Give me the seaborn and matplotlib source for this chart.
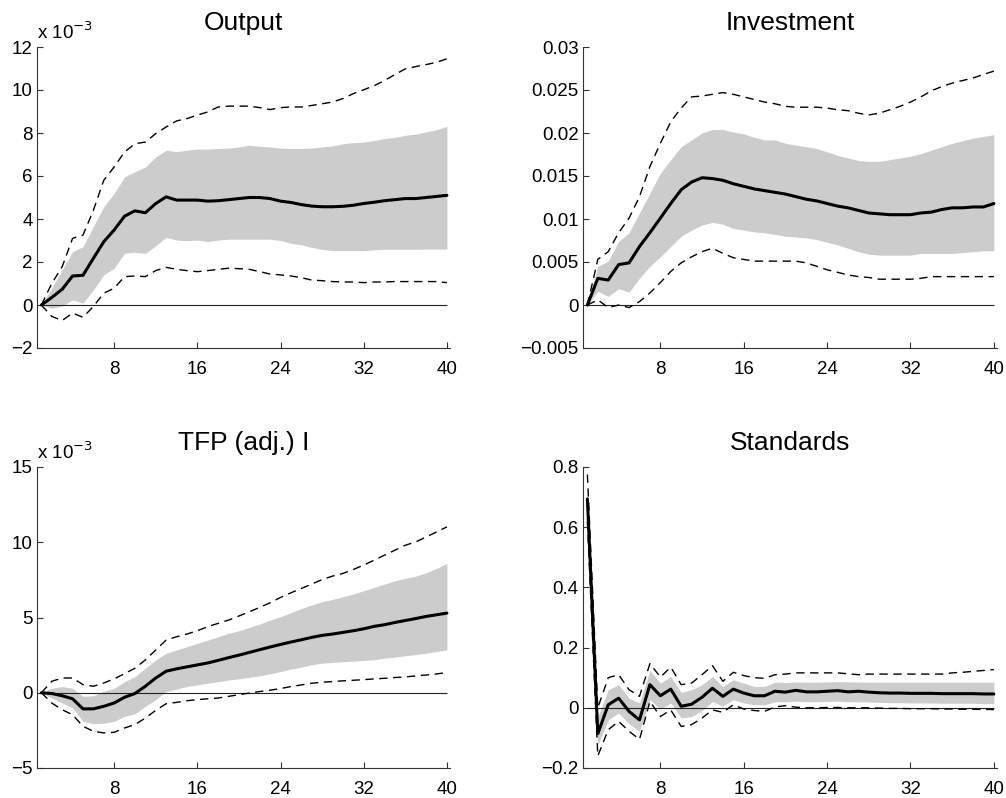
import numpy as np
import pandas as pd
import matplotlib
matplotlib.use("Agg")
import matplotlib.pyplot as plt
import seaborn as sns
from matplotlib.ticker import FuncFormatter

sns.set_style("ticks")
plt.rcParams['font.family'] = ['Liberation Sans', 'DejaVu Sans']
plt.rcParams['axes.unicode_minus'] = True
plt.rcParams['text.color'] = 'black'
plt.rcParams['axes.labelcolor'] = 'black'
plt.rcParams['xtick.labelcolor'] = 'black'
plt.rcParams['ytick.labelcolor'] = 'black'

horizon = list(range(1, 41))

# ---------------- Output (x 10^-3) ----------------
output_mean = [0, 0.35, 0.73, 1.35, 1.38, 2.17, 2.94, 3.49, 4.13, 4.38,
               4.29, 4.72, 5.03, 4.88, 4.88, 4.88, 4.83, 4.85, 4.90, 4.95,
               5.00, 5.00, 4.95, 4.83, 4.77, 4.67, 4.60, 4.57, 4.57, 4.59,
               4.64, 4.72, 4.78, 4.85, 4.90, 4.95, 4.95, 5.00, 5.05, 5.10]
output_band_hi = [0, 0.80, 1.63, 2.48, 2.71, 3.64, 4.57, 5.19, 5.96, 6.20,
                  6.42, 6.89, 7.20, 7.13, 7.20, 7.25, 7.25, 7.28, 7.30, 7.35,
                  7.43, 7.38, 7.35, 7.30, 7.28, 7.28, 7.30, 7.35, 7.40, 7.50,
                  7.55, 7.58, 7.65, 7.74, 7.80, 7.89, 7.95, 8.05, 8.15, 8.31]
output_band_lo = [0, -0.15, -0.05, 0.24, 0.09, 0.70, 1.40, 1.71, 2.41, 2.45,
                  2.40, 2.76, 3.15, 3.02, 2.99, 3.02, 2.95, 3.02, 3.06, 3.06,
                  3.06, 3.06, 3.06, 3.00, 2.87, 2.80, 2.68, 2.59, 2.53, 2.53,
                  2.53, 2.53, 2.57, 2.59, 2.59, 2.59, 2.59, 2.60, 2.60, 2.60]
output_ci_hi = [0, 1.00, 1.78, 3.10, 3.25, 4.40, 5.80, 6.42, 7.12, 7.50,
                7.58, 7.97, 8.28, 8.56, 8.67, 8.83, 8.98, 9.21, 9.25, 9.25,
                9.25, 9.18, 9.09, 9.18, 9.21, 9.21, 9.28, 9.36, 9.44, 9.60,
                9.83, 10.01, 10.20, 10.44, 10.72, 10.98, 11.09, 11.18, 11.29, 11.45]
output_ci_lo = [0, -0.53, -0.72, -0.38, -0.57, -0.07, 0.55, 0.78, 1.32, 1.35,
                1.32, 1.60, 1.75, 1.66, 1.60, 1.55, 1.60, 1.66, 1.71, 1.69,
                1.66, 1.55, 1.44, 1.40, 1.35, 1.27, 1.16, 1.13, 1.09, 1.07,
                1.07, 1.04, 1.07, 1.07, 1.09, 1.09, 1.09, 1.09, 1.09, 1.04]

# ---------------- Investment ----------------
inv_mean = [0, 0.0031, 0.0029, 0.0047, 0.0049, 0.0068, 0.0084, 0.0101, 0.0118, 0.0134,
            0.0143, 0.0148, 0.0147, 0.0145, 0.0141, 0.0138, 0.0135, 0.0133, 0.0131, 0.0129,
            0.0126, 0.0123, 0.0121, 0.0118, 0.0115, 0.0113, 0.0110, 0.0107, 0.0106, 0.0105,
            0.0105, 0.0105, 0.0107, 0.0108, 0.0111, 0.0113, 0.0113, 0.0114, 0.0114, 0.0118]
inv_band_hi = [0, 0.0045, 0.0051, 0.0074, 0.0084, 0.0107, 0.0130, 0.0153, 0.0169, 0.0184,
               0.0192, 0.0200, 0.0204, 0.0204, 0.0201, 0.0199, 0.0195, 0.0192, 0.0192, 0.0188,
               0.0186, 0.0184, 0.0182, 0.0178, 0.0174, 0.0171, 0.0168, 0.0167, 0.0167, 0.0169,
               0.0171, 0.0173, 0.0176, 0.0180, 0.0184, 0.0188, 0.0191, 0.0194, 0.0196, 0.0198]
inv_band_lo = [0, 0.0016, 0.0010, 0.0019, 0.0015, 0.0031, 0.0045, 0.0056, 0.0068, 0.0080,
               0.0087, 0.0093, 0.0096, 0.0094, 0.0089, 0.0087, 0.0085, 0.0084, 0.0082, 0.0080,
               0.0079, 0.0078, 0.0076, 0.0073, 0.0070, 0.0066, 0.0062, 0.0059, 0.0058, 0.0058,
               0.0058, 0.0058, 0.0060, 0.0060, 0.0060, 0.0060, 0.0061, 0.0062, 0.0063, 0.0063]
inv_ci_hi = [0, 0.0053, 0.0062, 0.0084, 0.0101, 0.0126, 0.0161, 0.0188, 0.0213, 0.0229,
             0.0242, 0.0243, 0.0245, 0.0247, 0.0245, 0.0242, 0.0239, 0.0236, 0.0234, 0.0231,
             0.0230, 0.0230, 0.0230, 0.0229, 0.0227, 0.0226, 0.0223, 0.0221, 0.0223, 0.0227,
             0.0231, 0.0236, 0.0242, 0.0249, 0.0254, 0.0258, 0.0261, 0.0264, 0.0268, 0.0272]
inv_ci_lo = [0, 0.0006, -0.0003, 0.0000, -0.0003, 0.0004, 0.0014, 0.0026, 0.0039, 0.0049,
             0.0056, 0.0062, 0.0066, 0.0060, 0.0055, 0.0053, 0.0051, 0.0051, 0.0051, 0.0051,
             0.0051, 0.0049, 0.0045, 0.0041, 0.0038, 0.0035, 0.0033, 0.0032, 0.0030, 0.0030,
             0.0030, 0.0030, 0.0031, 0.0033, 0.0033, 0.0033, 0.0033, 0.0033, 0.0033, 0.0033]

# ---------------- TFP (adj.) I (x 10^-3) ----------------
tfp_mean = [0, -0.05, -0.20, -0.40, -1.07, -1.07, -0.90, -0.68, -0.30, -0.05,
            0.43, 0.98, 1.43, 1.59, 1.72, 1.85, 1.98, 2.15, 2.33, 2.50,
            2.68, 2.86, 3.04, 3.21, 3.37, 3.52, 3.68, 3.81, 3.90, 4.01,
            4.12, 4.25, 4.41, 4.52, 4.67, 4.80, 4.93, 5.07, 5.18, 5.29]
tfp_band_hi = [0, 0.30, 0.41, 0.30, -0.24, -0.20, 0.10, 0.30, 0.74, 1.07,
               1.63, 2.18, 2.62, 2.84, 3.06, 3.28, 3.50, 3.72, 3.95, 4.12,
               4.34, 4.56, 4.83, 5.05, 5.32, 5.60, 5.83, 6.05, 6.20, 6.38,
               6.56, 6.78, 7.00, 7.22, 7.44, 7.60, 7.75, 7.97, 8.26, 8.59]
tfp_band_lo = [0, -0.35, -0.68, -1.01, -1.90, -2.06, -2.02, -1.90, -1.57, -1.40,
               -0.90, -0.46, 0.08, 0.24, 0.41, 0.52, 0.63, 0.74, 0.85, 0.92,
               1.03, 1.12, 1.26, 1.41, 1.57, 1.70, 1.86, 1.97, 2.01, 2.06,
               2.10, 2.15, 2.19, 2.30, 2.37, 2.46, 2.54, 2.63, 2.74, 2.85]
tfp_ci_hi = [0, 0.76, 0.98, 0.98, 0.54, 0.43, 0.65, 0.92, 1.27, 1.63,
             2.18, 2.84, 3.50, 3.72, 3.90, 4.12, 4.39, 4.61, 4.83, 5.10,
             5.38, 5.67, 5.98, 6.33, 6.64, 6.93, 7.22, 7.52, 7.75, 7.93,
             8.19, 8.48, 8.81, 9.14, 9.47, 9.80, 10.02, 10.35, 10.68, 11.02]
tfp_ci_lo = [0, -0.68, -1.13, -1.46, -2.23, -2.56, -2.67, -2.63, -2.34, -2.12,
             -1.68, -1.17, -0.73, -0.64, -0.53, -0.46, -0.40, -0.35, -0.24, -0.13,
             -0.02, 0.08, 0.17, 0.28, 0.41, 0.52, 0.63, 0.70, 0.74, 0.79,
             0.83, 0.87, 0.92, 0.96, 1.01, 1.05, 1.12, 1.18, 1.25, 1.34]

# ---------------- Standards ----------------
std_mean = [0.694, -0.086, 0.010, 0.032, -0.012, -0.040, 0.077, 0.040, 0.062, 0.005,
            0.012, 0.035, 0.065, 0.038, 0.062, 0.049, 0.040, 0.040, 0.055, 0.052,
            0.058, 0.053, 0.053, 0.055, 0.057, 0.053, 0.055, 0.052, 0.050, 0.049,
            0.049, 0.048, 0.048, 0.048, 0.047, 0.047, 0.047, 0.047, 0.046, 0.046]
std_band_hi = [0.730, -0.030, 0.060, 0.077, 0.032, 0.016, 0.124, 0.082, 0.104, 0.051,
               0.060, 0.077, 0.104, 0.071, 0.093, 0.082, 0.071, 0.071, 0.085, 0.084,
               0.086, 0.085, 0.085, 0.086, 0.087, 0.086, 0.086, 0.085, 0.085, 0.085,
               0.085, 0.085, 0.085, 0.085, 0.085, 0.085, 0.085, 0.085, 0.085, 0.085]
std_band_lo = [0.680, -0.123, -0.040, -0.017, -0.053, -0.078, 0.027, -0.004, 0.016, -0.034,
               -0.029, -0.009, 0.021, 0.005, 0.027, 0.016, 0.010, 0.010, 0.020, 0.020,
               0.022, 0.020, 0.020, 0.021, 0.022, 0.020, 0.020, 0.019, 0.018, 0.017,
               0.017, 0.016, 0.016, 0.016, 0.015, 0.015, 0.015, 0.015, 0.014, 0.014]
std_ci_hi = [0.775, 0.000, 0.100, 0.110, 0.060, 0.038, 0.147, 0.102, 0.135, 0.077,
             0.082, 0.110, 0.140, 0.088, 0.118, 0.107, 0.100, 0.098, 0.110, 0.112,
             0.116, 0.116, 0.116, 0.116, 0.116, 0.113, 0.110, 0.112, 0.112, 0.112,
             0.112, 0.112, 0.112, 0.112, 0.112, 0.116, 0.118, 0.121, 0.124, 0.127]
std_ci_lo = [0.620, -0.160, -0.073, -0.045, -0.078, -0.105, 0.021, -0.029, -0.007, -0.062,
             -0.056, -0.034, -0.007, -0.015, 0.010, -0.004, -0.009, -0.012, 0.003, 0.007,
             0.002, 0.000, 0.000, 0.001, 0.001, 0.000, 0.000, 0.000, -0.001, -0.002,
             -0.002, -0.003, -0.003, -0.003, -0.004, -0.004, -0.005, -0.005, -0.005, -0.006]

titles = ["Output", "Investment", "TFP (adj.) I", "Standards"]
ylims = [(-2, 12), (-0.005, 0.03), (-5, 15), (-0.2, 0.8)]
yticks = [[-2, 0, 2, 4, 6, 8, 10, 12],
          [-0.005, 0, 0.005, 0.01, 0.015, 0.02, 0.025, 0.03],
          [-5, 0, 5, 10, 15],
          [-0.2, 0, 0.2, 0.4, 0.6, 0.8]]
xticks = [8, 16, 24, 32, 40]
scaled = [True, False, True, False]

series = [
    (output_mean, output_band_lo, output_band_hi, output_ci_lo, output_ci_hi),
    (inv_mean, inv_band_lo, inv_band_hi, inv_ci_lo, inv_ci_hi),
    (tfp_mean, tfp_band_lo, tfp_band_hi, tfp_ci_lo, tfp_ci_hi),
    (std_mean, std_band_lo, std_band_hi, std_ci_lo, std_ci_hi),
]

W, H = 1006, 798
fig = plt.figure(figsize=(W / 100, H / 100), dpi=100)
boxes = [(37, 47, 450, 348), (583, 47, 997, 348),
         (37, 467, 450, 768), (583, 467, 997, 768)]

def fmt(v, pos):
    s = "%g" % round(v, 6)
    if s == "-0":
        s = "0"
    return s.replace("-", "\u2212")

FS = 13.5
for i in range(4):
    l, t, r, b = boxes[i]
    ax = fig.add_axes([l / W, 1 - b / H, (r - l) / W, (b - t) / H])
    mean, blo, bhi, clo, chi = series[i]
    df = pd.DataFrame({"h": horizon, "mean": mean, "blo": blo, "bhi": bhi,
                       "clo": clo, "chi": chi})
    ax.fill_between(df["h"], df["blo"], df["bhi"], color="#cccccc", lw=0, zorder=1)
    ax.hlines(0, 1, 40, color="#222222", lw=0.8, zorder=2)
    sns.lineplot(data=df, x="h", y="chi", ax=ax, color="black", lw=1.0,
                 zorder=3).lines[-1].set_dashes((6, 4))
    sns.lineplot(data=df, x="h", y="clo", ax=ax, color="black", lw=1.0,
                 zorder=3).lines[-1].set_dashes((6, 4))
    sns.lineplot(data=df, x="h", y="mean", ax=ax, color="black", lw=2.2, zorder=4)
    ax.set_xlim(0.58, 40.3)
    ax.set_ylim(*ylims[i])
    ax.set_xticks(xticks)
    ax.set_yticks(yticks[i])
    ax.yaxis.set_major_formatter(FuncFormatter(fmt))
    ax.set_xlabel("")
    ax.set_ylabel("")
    ax.set_title(titles[i], fontsize=19, pad=12, color="black")
    for side in ["top", "right"]:
        ax.spines[side].set_visible(False)
    for side in ["left", "bottom"]:
        ax.spines[side].set_color("#333333")
        ax.spines[side].set_linewidth(0.8)
    ax.tick_params(axis="both", direction="in", length=4, width=0.8,
                   color="#333333", labelsize=FS, labelcolor="black")
    ax.tick_params(axis="x", pad=9)
    ax.tick_params(axis="y", pad=3)
    if scaled[i]:
        ax.text(0.0, 1.012, r"x 10$^{-3}$", transform=ax.transAxes,
                ha="left", va="bottom", fontsize=FS, color="black")

fig.savefig("out.png", dpi=100)
